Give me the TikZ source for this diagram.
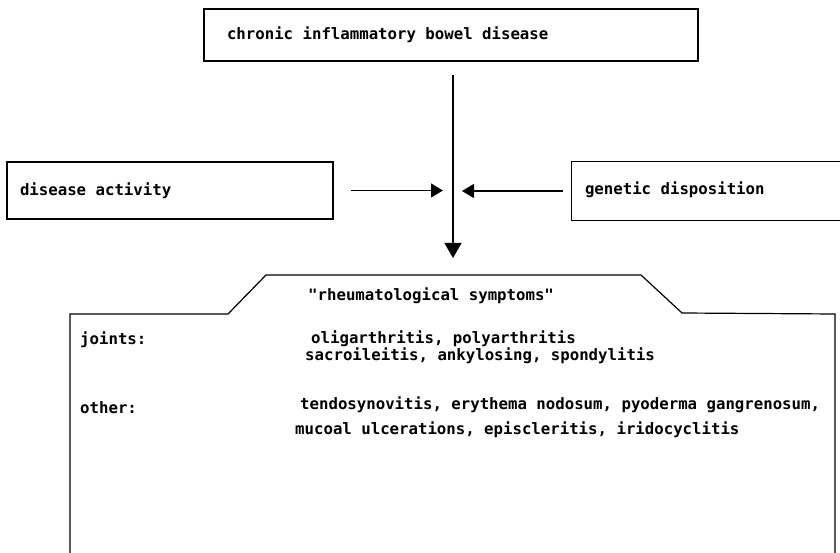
\documentclass[tikz,border=0pt]{standalone}
\usepackage{fontspec}
\newfontfamily\prt{DejaVu Sans Mono}
\usepackage{tikz}
\usetikzlibrary{arrows.meta,positioning}
\tikzstyle{tbox}=[rectangle,draw,line width=1.2pt,inner sep=0pt,align=left]
\tikzstyle{tlabel}=[inner sep=0pt,anchor=west]
\tikzstyle{flow}=[line width=1.2pt,-{Triangle[length=12pt,width=14pt]}]
\newcommand{\ptxt}{\prt\bfseries\fontsize{15.7pt}{18pt}\selectfont}

\begin{document}
\begin{tikzpicture}[x=1pt,y=-1pt,font=\ptxt]
  \useasboundingbox (0,0) rectangle (840,553);

  \node[tbox,minimum width=494pt,minimum height=52pt,text width=448pt] (cibd) at (451,35) {\spaceskip=0pt chronic inflammatory bowel disease};
  \node[tbox,minimum width=326pt,minimum height=57pt,text width=300pt] (act) at (170,190.5) {\spaceskip=0pt disease activity};
  \node[inner sep=0pt,minimum width=268pt,minimum height=58pt,text width=242pt,align=left] (gen) at (706,191) {\spaceskip=0pt\raisebox{6pt}{genetic disposition}};
  \draw[line width=1.2pt] (gen.north east) -- (gen.north west) -- (gen.south west) -- (gen.south east);

  \coordinate (top) at (453,75);
  \coordinate (bot) at (453,258);
  \coordinate (lin) at (443,193);
  \coordinate (rin) at (462,193);

  \draw[flow,-{Triangle[length=15pt,width=17pt]}] (top) to (bot);
  \draw[flow] ([xshift=17pt]act.east) to (act.east -| lin);
  \draw[flow] ([xshift=-9pt]gen.west) to (gen.west -| rin);

  % symptoms folder
  \draw[line width=1.2pt] (70,553) -- (70,314) -- (228,314) -- (266,275) -- (641,275) -- (682,313) -- (835,314) -- (835,553);

  \node[tlabel] (symp) at (308,296) {"rheumatological symptoms"};
  \node[tlabel] (joints) at (80,340) {joints:};
  \node[tlabel] (j1) at (311,339) {oligarthritis, polyarthritis};
  \node[tlabel] (j2) at (305,356) {sacroileitis, ankylosing, spondylitis};
  \node[tlabel] (other) at (80,408) {other:};
  \node[tlabel] (o1) at (300,405) {tendosynovitis, erythema nodosum, pyoderma gangrenosum,};
  \node[tlabel] (o2) at (295,430) {mucoal ulcerations, episcleritis, iridocyclitis};

\end{tikzpicture}
\end{document}
